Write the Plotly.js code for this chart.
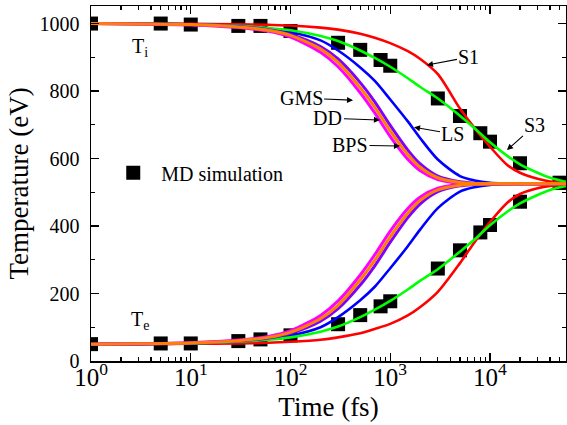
<!DOCTYPE html>
<html>
<head>
<meta charset="utf-8">
<script src="https://cdn.plot.ly/plotly-3.0.1.min.js"></script>
<style>html,body{margin:0;padding:0;background:#fff;}#chart{width:567px;height:425px;}</style>
</head>
<body>
<div id="chart"></div>
<script>
// ---- data ----
const fitTime = [1, 3, 10, 30, 60, 100, 200, 300, 500, 700, 1000, 1500, 2000, 3000, 5000, 7000, 10000, 15000, 20000, 30000, 40000, 60000];

const s1Ti  = [1000, 1000, 999, 998, 996, 994, 988, 982, 970, 958, 942, 918, 895, 850, 748, 690, 635, 580, 558, 540, 532, 527];
const s1Te  = [50, 50, 51, 52, 54, 57, 63, 70, 82, 95, 110, 135, 160, 205, 290, 352, 412, 470, 495, 512, 519, 523];

const s3Ti  = [1000, 999, 998, 993, 987, 980, 963, 948, 920, 898, 872, 838, 812, 778, 727, 690, 648, 607, 583, 558, 543, 530];
const s3Te  = [50, 51, 52, 57, 63, 70, 87, 102, 130, 152, 178, 212, 238, 272, 324, 360, 402, 443, 467, 492, 507, 520];

const lsTi  = [1000, 1000, 998, 993, 985, 975, 950, 920, 870, 830, 775, 710, 660, 597, 548, 535, 528, 526, 525, 525, 525, 525];
const lsTe  = [50, 50, 52, 57, 65, 75, 100, 130, 180, 220, 275, 340, 390, 453, 502, 515, 522, 524, 525, 525, 525, 525];

const gmsTi = [1000, 999, 997, 991, 982, 968, 932, 895, 825, 768, 698, 625, 584, 548, 531, 527, 525, 525, 525, 525, 525, 525];
const gmsTe = [50, 51, 53, 59, 68, 82, 118, 155, 225, 282, 352, 425, 466, 502, 519, 523, 525, 525, 525, 525, 525, 525];

const ddTi  = [1000, 999, 997, 990, 980, 965, 925, 885, 810, 752, 682, 612, 574, 543, 529, 526, 525, 525, 525, 525, 525, 525];
const ddTe  = [50, 51, 53, 60, 70, 85, 125, 165, 240, 298, 368, 438, 476, 507, 521, 524, 525, 525, 525, 525, 525, 525];

const bpsTi = [1000, 999, 996, 988, 977, 960, 915, 872, 795, 735, 665, 598, 564, 538, 527, 525.5, 525, 525, 525, 525, 525, 525];
const bpsTe = [50, 51, 54, 62, 73, 90, 135, 178, 255, 315, 385, 452, 486, 512, 523, 524.5, 525, 525, 525, 525, 525, 525];

const mdTime = [1, 5, 10, 30, 50, 100, 300, 500, 800, 1000, 3000, 5000, 8000, 10000, 20000, 50000];
const mdTi   = [1000, 1000, 997, 993, 993, 978, 943, 922, 892, 875, 778, 726, 675, 650, 586, 528];
const mdTe   = [50, 52, 52, 59, 64, 76, 109, 136, 162, 177, 274, 328, 381, 403, 472, 528];

const xDefaultLabels = ['1', '10'];
const xAliasLabels = ['10<sup>0</sup>', '10<sup>1</sup>'];

const FONT = 'Liberation Serif';

// ---- traces ----
function curve(y, color, w) {
  return {x: fitTime, y: y, type: 'scatter', mode: 'lines', showlegend: false,
          line: {color: color, width: w, shape: 'spline', smoothing: 0.8}, hoverinfo: 'skip'};
}
const traces = [
  {x: mdTime, y: mdTi, type: 'scatter', mode: 'markers', name: 'MD simulation', legendgroup: 'md',
   marker: {symbol: 'square', size: 14, color: 'black'}},
  {x: mdTime, y: mdTe, type: 'scatter', mode: 'markers', name: 'MD simulation', legendgroup: 'md', showlegend: false,
   marker: {symbol: 'square', size: 14, color: 'black'}},
  curve(s1Ti, '#ff0000', 2.6), curve(s1Te, '#ff0000', 2.6),
  curve(lsTi, '#0000ff', 2.6), curve(lsTe, '#0000ff', 2.6),
  curve(s3Ti, '#00ff00', 2.6), curve(s3Te, '#00ff00', 2.6),
  curve(gmsTi, '#8000ff', 3), curve(gmsTe, '#8000ff', 3),
  curve(bpsTi, '#ff00ff', 3), curve(bpsTe, '#ff00ff', 3),
  curve(ddTi, '#ff8000', 3), curve(ddTe, '#ff8000', 3)
];

const alias = {};
xDefaultLabels.forEach((k, i) => alias[k] = xAliasLabels[i]);

function arrowNote(text, lx, y, ax, ay) {
  return {x: lx, y: y, xref: 'x', yref: 'y', text: text, showarrow: true,
          ax: ax, ay: ay, arrowhead: 2, arrowsize: 1.1, arrowwidth: 1.1, arrowcolor: 'black',
          font: {family: FONT, size: 20, color: 'black'}, standoff: 0, startstandoff: 0};
}

const layout = {
  width: 567, height: 425,
  margin: {l: 91, r: 1, t: 6, b: 64},
  paper_bgcolor: '#ffffff', plot_bgcolor: '#ffffff',
  font: {family: FONT, size: 20, color: 'black'},
  showlegend: true,
  legend: {x: 0.03, y: 0.53, xanchor: 'left', yanchor: 'middle', bgcolor: 'rgba(0,0,0,0)',
           font: {family: FONT, size: 20}, itemwidth: 46},
  xaxis: {
    type: 'log', range: [0, 4.762], tickmode: 'linear', tick0: 0, dtick: 1,
    exponentformat: 'power', labelalias: alias,
    ticks: 'inside', ticklen: 8, tickwidth: 1.2, tickcolor: 'black',
    mirror: 'allticks', showline: true, linewidth: 1.5, linecolor: 'black',
    showgrid: false, zeroline: false, ticklabelstandoff: -6,
    minor: {ticks: 'inside', ticklen: 4, tickwidth: 1.2, tickcolor: 'black', dtick: 'D1', showgrid: false},
    tickfont: {family: FONT, size: 20},
    title: {text: 'Time (fs)', font: {family: FONT, size: 27}, standoff: 7}
  },
  yaxis: {
    range: [0, 1052], tickmode: 'linear', tick0: 0, dtick: 200,
    ticks: 'inside', ticklen: 8, tickwidth: 1.2, tickcolor: 'black',
    mirror: 'allticks', showline: true, linewidth: 1.5, linecolor: 'black',
    showgrid: false, zeroline: false, ticklabelstandoff: 6,
    minor: {ticks: 'inside', ticklen: 4, tickwidth: 1.2, tickcolor: 'black', dtick: 100, showgrid: false},
    tickfont: {family: FONT, size: 20},
    title: {text: 'Temperature (eV)', font: {family: FONT, size: 27}, standoff: 3}
  },
  annotations: [
    {x: 0.49, y: 928, xref: 'x', yref: 'y', text: 'T<sub>i</sub>', showarrow: false, font: {family: FONT, size: 20}},
    {x: 0.49, y: 121, xref: 'x', yref: 'y', text: 'T<sub>e</sub>', showarrow: false, font: {family: FONT, size: 20}},
    arrowNote('GMS', 2.627, 773, -52, -2),
    arrowNote('DD', 2.897, 714, -52, -2),
    arrowNote('BPS', 3.098, 637, -50, -1),
    arrowNote('LS', 3.238, 693, 39, 7),
    arrowNote('S1', 3.368, 877, 42, -8),
    arrowNote('S3', 4.170, 625, 28, -25)
  ]
};

Plotly.newPlot('chart', traces, layout, {staticPlot: true, displayModeBar: false});
</script>
</body>
</html>
